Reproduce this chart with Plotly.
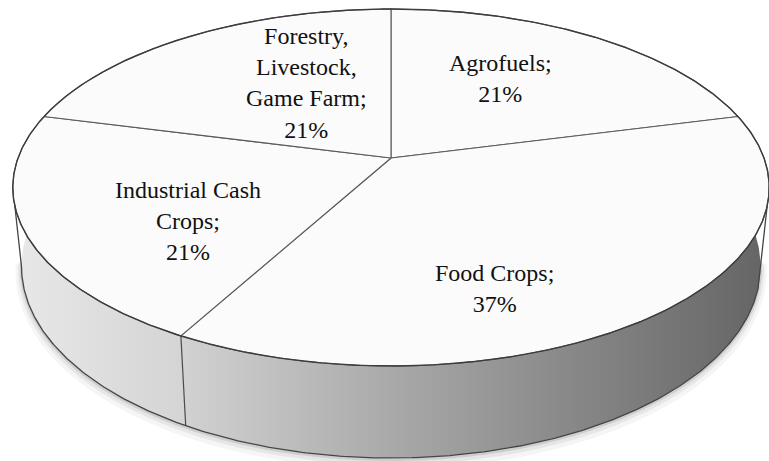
import math
import plotly.graph_objects as go

# ---- data ----
categories = ["Agrofuels", "Food Crops", "Industrial Cash Crops", "Forestry, Livestock, Game Farm"]
values = [21, 37, 21, 21]
label_lines = [
    ["Agrofuels;"],
    ["Food Crops;"],
    ["Industrial Cash", "Crops;"],
    ["Forestry,", "Livestock,", "Game Farm;"],
]

# ---- 3D pie projection (layout / geometry) ----
W, H_FIG = 769, 461
CX, CY = 391.0, 158.0       # projected pie centre
K = 0.1653                  # perspective strength
P, Q = 373.0, 173.6         # horizontal / vertical radius scales
S = 0.977                   # shrink of the bottom face (vertical convergence)
DEPTH = 76.8                # pie thickness
LABEL_POS = [(500, 78), (494, 288), (188, 221), (306, 83)]
FONT = "Liberation Serif, Times New Roman, serif"


def proj(theta, bottom=False, r=1.0):
    t = math.radians(theta)
    u, v = r * math.sin(t), r * math.cos(t)
    w = 1 + K * v
    x = CX + P * u / w
    y = CY - Q * v / w
    if bottom:
        x = CX + (x - CX) * S
        y = y + DEPTH / w
    return x, y


def arc(a, b, bottom=False, n=None):
    if n is None:
        n = max(2, int(abs(b - a) * 2))
    pts = [proj(a + (b - a) * i / n, bottom) for i in range(n + 1)]
    return [p[0] for p in pts], [p[1] for p in pts]


total = sum(values)
angles = [0.0]
for v in values:
    angles.append(angles[-1] + 360.0 * v / total)

fig = go.Figure()

side_grad = {
    "light": [[0, "#e8e8e8"], [1, "#d4d4d4"]],
    "dark": [[0, "#d2d2d2"], [0.36, "#a9a9a9"], [0.72, "#828282"], [1, "#646464"]],
}
VIS_A, VIS_B = 85.0, 275.0
SIL_A, SIL_B = math.degrees(math.acos(-K)), 360 - math.degrees(math.acos(-K))

# soft shadow under the pie
for off, width, alpha in [(5, 12, 0.04), (3, 7, 0.06), (1.5, 3, 0.10)]:
    bx, by = arc(SIL_A - 2, SIL_B + 2, bottom=True)
    fig.add_trace(go.Scatter(x=bx, y=[y + off for y in by], mode="lines",
                             line=dict(color=f"rgba(0,0,0,{alpha})", width=width, shape="spline"),
                             hoverinfo="skip", showlegend=False))

for i in range(len(values)):
    a, b = max(angles[i], VIS_A), min(angles[i + 1], VIS_B)
    if a >= b:
        continue
    tx, ty = arc(a, b)
    bx, by = arc(a, b, bottom=True)
    xs = tx + bx[::-1] + [tx[0]]
    ys = ty + by[::-1] + [ty[0]]
    dark = (a + b) / 2 < 180
    fig.add_trace(go.Scatter(
        x=xs, y=ys, mode="lines", fill="toself",
        line=dict(width=0, color="rgba(0,0,0,0)"),
        fillgradient=dict(type="horizontal",
                          colorscale=side_grad["dark" if dark else "light"],
                          start=min(xs),
                          stop=W if dark else max(xs)),
        hoverinfo="skip", showlegend=False))

# slice boundaries on the side
for ang in angles[1:-1]:
    if SIL_A < ang < SIL_B:
        x0, y0 = proj(ang)
        x1, y1 = proj(ang, bottom=True)
        fig.add_trace(go.Scatter(x=[x0, x1], y=[y0, y1], mode="lines",
                                 line=dict(color="#4a4a4a", width=1.2),
                                 hoverinfo="skip", showlegend=False))

# side outline (bottom edge + silhouettes)
bx, by = arc(SIL_A, SIL_B, bottom=True)
sx0, sy0 = proj(SIL_A)
sx1, sy1 = proj(SIL_B)
fig.add_trace(go.Scatter(x=[sx0] + bx + [sx1], y=[sy0] + by + [sy1], mode="lines",
                         line=dict(color="#454545", width=1.3),
                         hoverinfo="skip", showlegend=False))

# top face slices
for i in range(len(values)):
    tx, ty = arc(angles[i], angles[i + 1])
    xs = [CX] + tx + [CX]
    ys = [CY] + ty + [CY]
    fig.add_trace(go.Scatter(x=xs, y=ys, mode="lines", fill="toself",
                             fillcolor="#fbfbfb",
                             line=dict(color="#5a5a5a", width=1.1),
                             name=categories[i], hoverinfo="name", showlegend=False))

# top outline
tx, ty = arc(0, 360, n=720)
fig.add_trace(go.Scatter(x=tx, y=ty, mode="lines", line=dict(color="#3c3c3c", width=1.4),
                         hoverinfo="skip", showlegend=False))

# labels
for i, (lx, ly) in enumerate(LABEL_POS):
    txt = "<br>".join(label_lines[i] + [f"{round(100 * values[i] / total)}%"])
    fig.add_annotation(x=lx, y=ly, text=txt, showarrow=False, xanchor="center", yanchor="middle",
                       font=dict(family=FONT, size=24, color="#111111"), align="center")

fig.update_layout(
    width=W, height=H_FIG, autosize=False,
    margin=dict(l=0, r=0, t=0, b=0, pad=0),
    paper_bgcolor="white", plot_bgcolor="white",
    xaxis=dict(range=[0, W], visible=False, fixedrange=True),
    yaxis=dict(range=[H_FIG, 0], visible=False, fixedrange=True),
    showlegend=False,
)
fig.write_html("out.html", config={"displayModeBar": False, "staticPlot": True},
               post_script="document.body.style.margin='0';document.body.style.overflow='hidden';")
